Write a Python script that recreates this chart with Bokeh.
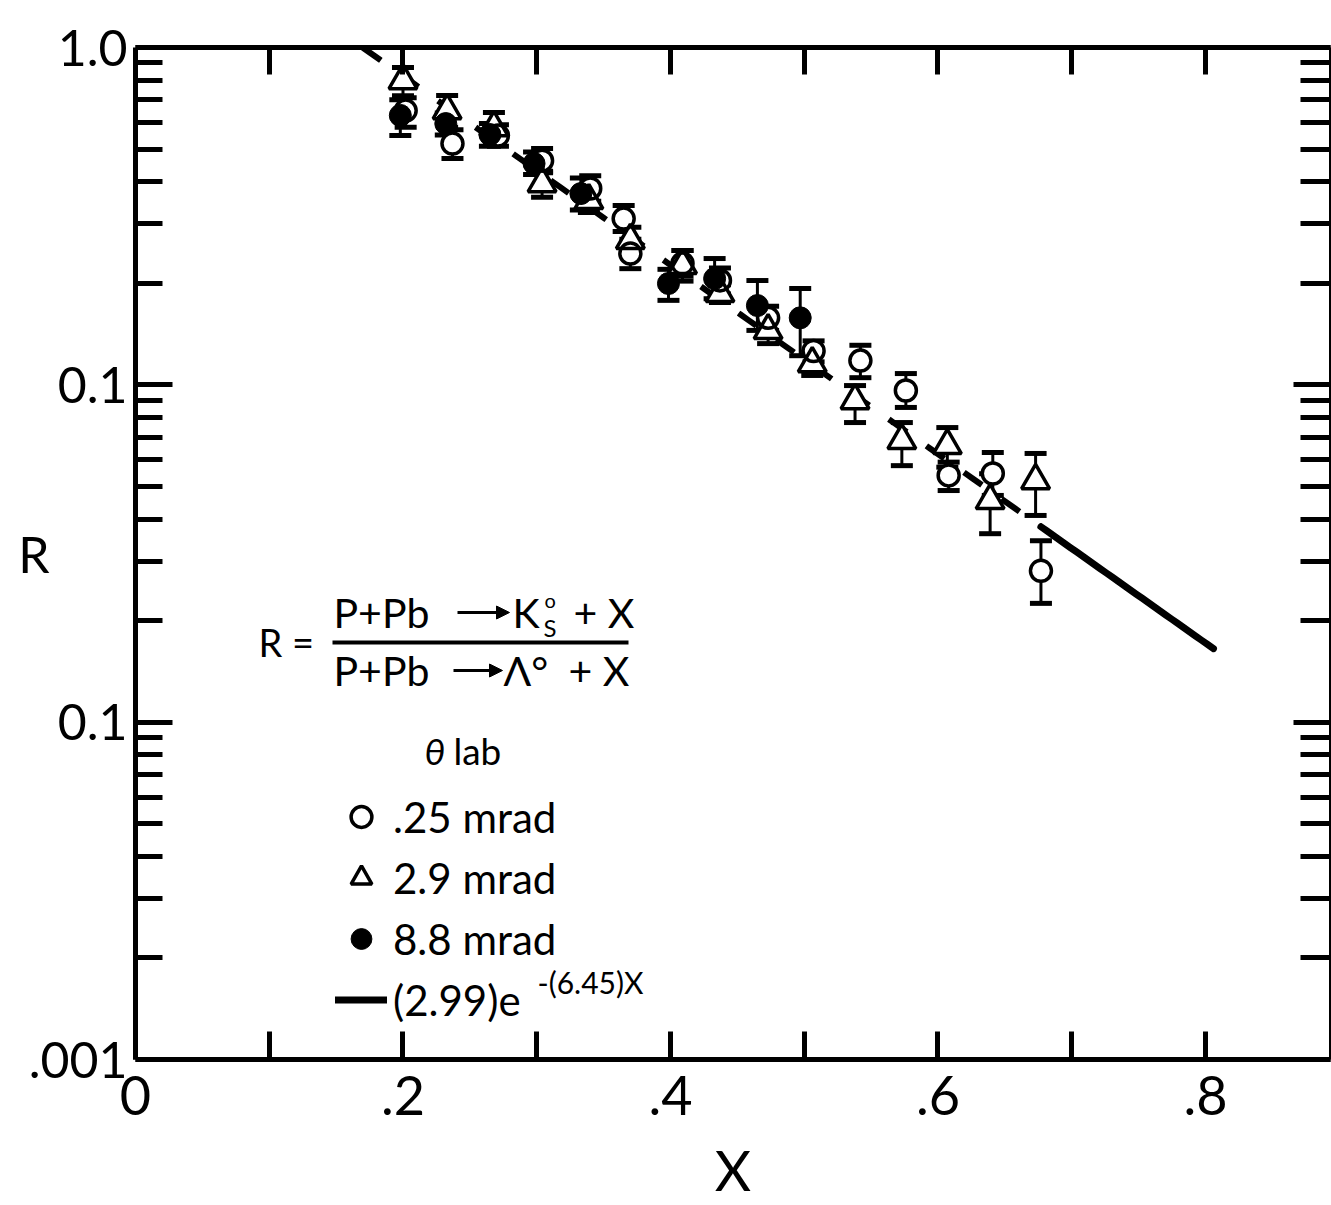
import numpy as np
from bokeh.plotting import figure
from bokeh.models import (Range1d, FixedTicker, LinearAxis, LogAxis, ColumnDataSource,
                          Whisker, TeeHead, Legend, LegendItem, Label, BoxAnnotation,
                          Arrow, NormalHead)
from bokeh.embed import file_html
from bokeh.resources import INLINE

# theta_lab = 0.25 mrad (open circles)
x_025 = [0.202, 0.237, 0.271, 0.304, 0.340, 0.365, 0.370, 0.409, 0.437, 0.473,
         0.507, 0.542, 0.576, 0.608, 0.641, 0.677]
r_025 = [0.650, 0.519, 0.548, 0.462, 0.382, 0.311, 0.245, 0.229, 0.204, 0.158,
         0.126, 0.118, 0.0962, 0.0539, 0.0546, 0.0281]
lo_025 = [0.58, 0.469, 0.51, 0.425, 0.35, 0.285, 0.221, 0.21, 0.186, 0.145,
          0.117, 0.105, 0.0857, 0.0486, 0.047, 0.0225]
hi_025 = [0.71, 0.57, 0.59, 0.502, 0.417, 0.340, 0.27, 0.25, 0.222, 0.171,
          0.135, 0.131, 0.108, 0.059, 0.063, 0.0345]

# theta_lab = 2.9 mrad (open triangles)
x_29 = [0.200, 0.233, 0.268, 0.304, 0.339, 0.370, 0.409, 0.437, 0.473, 0.506,
        0.538, 0.573, 0.607, 0.639, 0.673]
r_29 = [0.798, 0.650, 0.579, 0.395, 0.352, 0.268, 0.226, 0.1865, 0.1449, 0.1156,
        0.0898, 0.0684, 0.0661, 0.0454, 0.0520]
lo_29 = [0.72, 0.58, 0.52, 0.36, 0.324, 0.243, 0.203, 0.1754, 0.1325, 0.1066,
         0.0773, 0.0576, 0.057, 0.0362, 0.041]
hi_29 = [0.872, 0.721, 0.642, 0.43, 0.38, 0.293, 0.250, 0.198, 0.157, 0.125,
         0.0995, 0.0773, 0.0747, 0.0545, 0.0626]

# theta_lab = 8.8 mrad (filled circles)
x_88 = [0.198, 0.232, 0.265, 0.298, 0.333, 0.3985, 0.433, 0.465, 0.497]
r_88 = [0.629, 0.595, 0.552, 0.453, 0.369, 0.1997, 0.2066, 0.1718, 0.158]
lo_88 = [0.548, 0.55, 0.51, 0.42, 0.33, 0.178, 0.18, 0.145, 0.122]
hi_88 = [0.70, 0.64, 0.595, 0.49, 0.41, 0.22, 0.2368, 0.2038, 0.193]

# exponential fit R = A * exp(-B * X)
FIT_A = 2.99
FIT_B = 6.45
FIT_DASHED = (0.17, 0.677)
FIT_SOLID = (0.677, 0.806)

# axis ticks and labels
X_TICKS = [0.0, 0.2, 0.4, 0.6, 0.8]
X_MINOR = [0.1, 0.3, 0.5, 0.7]
X_LABELS = {0.0: "0", 0.2: ".2", 0.4: ".4", 0.6: ".6", 0.8: ".8"}
Y_TICKS = [0.001, 0.01, 0.1, 1.0]
Y_MINOR = [k * 10.0 ** e for e in (-3, -2, -1) for k in range(2, 10)]
Y_LABELS = {1.0: "1.0", 0.1: "0.1", 0.01: "0.1", 0.001: ".001"}

FONT = "Lato"
LEFT, TOP, BOTTOM = 135, 47, 146
W, H = 1331, 1205
FRAME_BOTTOM = H - BOTTOM

p = figure(width=W, height=H, x_range=Range1d(0, 0.8935), y_range=Range1d(0.001, 1.0),
           y_axis_type="log", output_backend="svg", toolbar_location=None,
           min_border_left=LEFT, min_border_right=1, min_border_top=TOP,
           min_border_bottom=BOTTOM)
p.xgrid.visible = False
p.ygrid.visible = False
p.outline_line_color = None
p.background_fill_color = "white"
p.border_fill_color = "white"


def style_axis(ax, major_in, minor_in, width, size=None, standoff=0):
    ax.major_tick_in = major_in
    ax.minor_tick_in = minor_in
    ax.major_tick_out = 0
    ax.minor_tick_out = 0
    ax.axis_line_width = width
    ax.major_tick_line_width = 5
    ax.minor_tick_line_width = 5
    ax.axis_line_color = "black"
    ax.major_tick_line_color = "black"
    ax.minor_tick_line_color = "black"
    ax.major_label_standoff = standoff
    if size is not None:
        ax.major_label_text_font = FONT
        ax.major_label_text_font_size = size
        ax.major_label_text_color = "black"
    else:
        # frame-only axis: ticks without numbers
        ticks = list(ax.ticker.ticks)
        ax.major_label_overrides = {t: "" for t in ticks}
        ax.major_label_text_color = None


xa = p.xaxis[0]
xa.ticker = FixedTicker(ticks=X_TICKS, minor_ticks=X_MINOR)
xa.major_label_overrides = X_LABELS
style_axis(xa, 28, 28, 5, size="54px", standoff=16)
xa.axis_label = "X"
xa.axis_label_text_font = FONT
xa.axis_label_text_font_style = "normal"
xa.axis_label_text_font_size = "56px"
xa.axis_label_text_color = "black"
xa.axis_label_standoff = 18

ya = p.yaxis[0]
ya.ticker = FixedTicker(ticks=Y_TICKS, minor_ticks=Y_MINOR)
ya.major_label_overrides = Y_LABELS
style_axis(ya, 37, 27, 5, size="50px", standoff=8)
ya.axis_label = "R"
ya.axis_label_text_font = FONT
ya.axis_label_text_font_style = "normal"
ya.axis_label_text_font_size = "50px"
ya.axis_label_text_color = "black"
ya.axis_label_standoff = -24
if "axis_label_orientation" in ya.properties():
    ya.axis_label_orientation = "horizontal"

top_axis = LinearAxis(ticker=FixedTicker(ticks=X_MINOR + X_TICKS[1:], minor_ticks=[]))
style_axis(top_axis, 27, 0, 5)
p.add_layout(top_axis, "above")

right_axis = LogAxis(ticker=FixedTicker(ticks=Y_TICKS, minor_ticks=Y_MINOR))
style_axis(right_axis, 37, 30, 3)
p.add_layout(right_axis, "right")

src_025 = ColumnDataSource(dict(x=x_025, r=r_025, lo=lo_025, hi=hi_025))
src_29 = ColumnDataSource(dict(x=x_29, r=r_29, lo=lo_29, hi=hi_29))
src_88 = ColumnDataSource(dict(x=x_88, r=r_88, lo=lo_88, hi=hi_88))

# error bars, kept beneath the markers
for src in (src_025, src_29, src_88):
    p.add_layout(Whisker(source=src, base="x", upper="hi", lower="lo",
                         line_color="black", line_width=3, level="underlay",
                         upper_head=TeeHead(size=22, line_width=5, line_color="black"),
                         lower_head=TeeHead(size=22, line_width=5, line_color="black")))

# fitted exponential: dashed across the data, solid beyond
xd = np.linspace(*FIT_DASHED, 80)
p.line(xd, FIT_A * np.exp(-FIT_B * xd), line_color="black", line_width=6,
       line_dash="22 24")
xs = np.linspace(*FIT_SOLID, 30)
fit_solid = p.line(xs, FIT_A * np.exp(-FIT_B * xs), line_color="black", line_width=7,
                   line_cap="round")

# white interiors of the open markers hide bars and the fit line inside them
p.scatter("x", "r", source=src_29, marker="triangle", size=28, fill_color="white",
          line_color=None)
p.scatter("x", "r", source=src_025, marker="circle", size=21, fill_color="white",
          line_color=None)
tri = p.scatter("x", "r", source=src_29, marker="triangle", size=28, fill_alpha=0,
                line_color="black", line_width=3.5)
opn = p.scatter("x", "r", source=src_025, marker="circle", size=21, fill_alpha=0,
                line_color="black", line_width=3.5)
fil = p.scatter("x", "r", source=src_88, marker="circle", size=22, fill_color="black",
                line_color="black", line_width=1)


def lab(cx, cy, text, size, align="left", style="normal"):
    p.add_layout(Label(x=cx - LEFT, y=FRAME_BOTTOM - cy, x_units="screen",
                       y_units="screen", text=text, text_font=FONT,
                       text_font_size=size, text_font_style=style, text_color="black",
                       text_align=align, text_baseline="middle"))


# ratio definition
lab(258, 641, "R =", "38px")
lab(333, 612, "P+Pb", "41px")
lab(512, 612, "K", "41px")
lab(544, 599, "o", "20px")
lab(543, 627, "S", "24px")
lab(573, 612, "+ X", "41px")
lab(333, 670, "P+Pb", "41px")
lab(503, 670, "Λ°", "41px")
lab(568, 670, "+ X", "41px")
for cy, x0, x1 in ((612, 457, 509), (670, 453, 502)):
    p.add_layout(Arrow(x_start=x0 - LEFT, y_start=FRAME_BOTTOM - cy,
                       x_end=x1 - LEFT, y_end=FRAME_BOTTOM - cy,
                       start_units="screen", end_units="screen", line_width=3,
                       line_color="black",
                       end=NormalHead(size=13, fill_color="black", line_color="black")))
p.add_layout(BoxAnnotation(left=332 - LEFT, right=628 - LEFT,
                           top=FRAME_BOTTOM - 640, bottom=FRAME_BOTTOM - 644,
                           left_units="screen", right_units="screen",
                           top_units="screen", bottom_units="screen",
                           fill_color="black", fill_alpha=1, line_color=None))

# legend
lab(424, 750, "θ", "37px", style="italic")
lab(453, 750, "lab", "37px")
legend = Legend(items=[LegendItem(label=".25 mrad", renderers=[opn]),
                       LegendItem(label="2.9 mrad", renderers=[tri]),
                       LegendItem(label="8.8 mrad", renderers=[fil]),
                       LegendItem(label=f"({FIT_A})e", renderers=[fit_solid])],
                location=(335 - LEFT, FRAME_BOTTOM - 1030), glyph_width=52,
                glyph_height=61, label_height=61, label_standoff=6, spacing=0,
                padding=0, margin=0, border_line_color=None, background_fill_alpha=0,
                label_text_font=FONT, label_text_font_size="42px",
                label_text_color="black")
p.add_layout(legend)
lab(537, 981, f"-({FIT_B})X", "30px")

open("out.html", "w").write(file_html(p, INLINE))
